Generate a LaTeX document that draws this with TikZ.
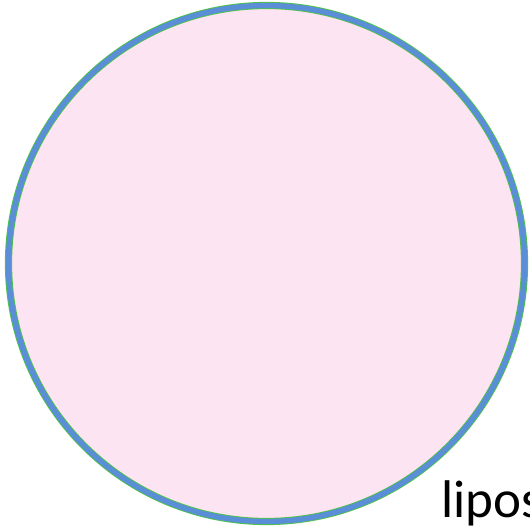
\documentclass[tikz,border=0pt]{standalone}
\usepackage{fontspec}
\setmainfont{Carlito}
\usepackage{tikz}
\usetikzlibrary{positioning,shadows}
\definecolor{lpfill}{HTML}{FCE4F2}
\definecolor{lpblue}{HTML}{5A8ED6}
\definecolor{lpgreen}{HTML}{4FC24A}

\begin{document}
\begin{tikzpicture}[
  x=1pt, y=-1pt,
  vesicle/.style={circle, minimum size=516pt, inner sep=0pt, fill=lpfill,
    draw=lpgreen, line width=0.9pt, double=lpblue, double distance=5.4pt,
    drop shadow={shadow xshift=1.5pt, shadow yshift=-1.5pt, opacity=0.15}},
  label/.style={font=\fontsize{53}{60}\selectfont, inner sep=0pt, anchor=base west}]
  \useasboundingbox (0,0) rectangle (530,526);
  \node[vesicle] (lipo) at (266.5,263.5) {};
  \node[label] (name) at (441,517) {lipos};
\end{tikzpicture}
\end{document}
